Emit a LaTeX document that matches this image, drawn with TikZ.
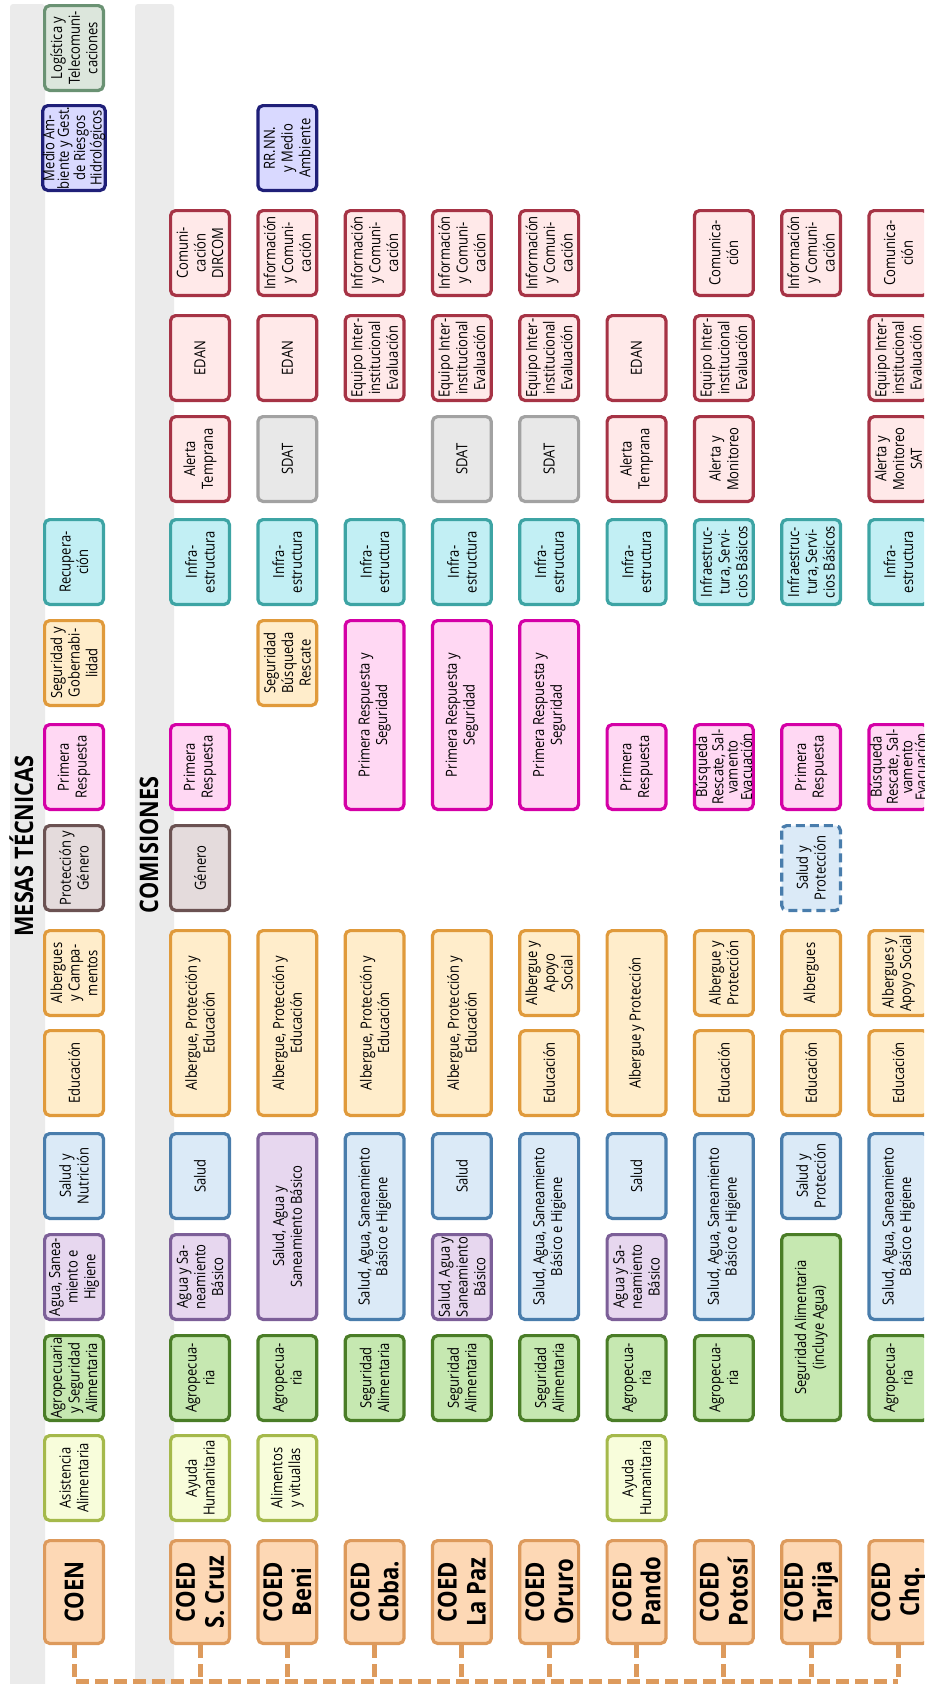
\documentclass[tikz,border=0pt]{standalone}
\usepackage{fontspec}
\setmainfont{Open Sans}[FakeStretch=0.85]
\definecolor{peachF}{HTML}{FDD8B5}
\definecolor{peachD}{HTML}{DD9A5C}
\definecolor{yelF}{HTML}{F8FDDB}
\definecolor{yelD}{HTML}{A5B94B}
\definecolor{grnF}{HTML}{C6E8B1}
\definecolor{grnD}{HTML}{4A7D27}
\definecolor{purF}{HTML}{E7D7EF}
\definecolor{purD}{HTML}{7C5F98}
\definecolor{bluF}{HTML}{DBEAF7}
\definecolor{bluD}{HTML}{497DAC}
\definecolor{orgF}{HTML}{FFEDCB}
\definecolor{orgD}{HTML}{E09A3B}
\definecolor{brnF}{HTML}{E4DBDC}
\definecolor{brnD}{HTML}{6B5252}
\definecolor{pnkF}{HTML}{FFD8F3}
\definecolor{pnkD}{HTML}{D400A6}
\definecolor{tealF}{HTML}{C2EFF4}
\definecolor{tealD}{HTML}{3DA4A4}
\definecolor{redF}{HTML}{FFE9E9}
\definecolor{redD}{HTML}{A63345}
\definecolor{gryF}{HTML}{E8E8E8}
\definecolor{gryD}{HTML}{A2A2A2}
\definecolor{navF}{HTML}{D9D9FF}
\definecolor{navD}{HTML}{1F1F78}
\definecolor{ggF}{HTML}{DCE6DC}
\definecolor{ggD}{HTML}{6A9273}
\definecolor{bandC}{HTML}{EBEBEB}
\tikzset{
 bx/.style={rounded corners=5pt, line width=3.2pt, rotate=90, align=center,
   minimum height=58.8pt, inner sep=0pt, text=black, font=\fontsize{15.3}{17.7}\selectfont},
 fourline/.style={font=\fontsize{15.3}{14.4}\selectfont},
 sPeach/.style={bx, fill=peachF, draw=peachD, font=\bfseries\fontsize{26}{29}\selectfont},
 sYel/.style={bx, fill=yelF, draw=yelD},
 sGrn/.style={bx, fill=grnF, draw=grnD},
 sPur/.style={bx, fill=purF, draw=purD},
 sBlu/.style={bx, fill=bluF, draw=bluD},
 sOrg/.style={bx, fill=orgF, draw=orgD},
 sBrn/.style={bx, fill=brnF, draw=brnD},
 sPnk/.style={bx, fill=pnkF, draw=pnkD},
 sTeal/.style={bx, fill=tealF, draw=tealD},
 sRed/.style={bx, fill=redF, draw=redD},
 sGry/.style={bx, fill=gryF, draw=gryD},
 sNav/.style={bx, fill=navF, draw=navD},
 sGG/.style={bx, fill=ggF, draw=ggD},
 sDash/.style={bx, fill=bluF, draw=bluD, dash pattern=on 9pt off 5pt},
 link/.style={draw=peachD, line width=5pt, dash pattern=on 13pt off 6pt},
 bandbox/.style={fill=bandC, rounded corners=3pt},
 hdr/.style={rotate=90, anchor=base, text=black, font=\bfseries\fontsize{25.5}{28}\selectfont},
}
\def\rowtops{{4,104,209,314,415,518,619,723,824,929,1029,1132,1233,1334,1434,1539}}
\newcommand\mkbox[6]{%
  \pgfmathsetmacro\bxX{#2==0 ? 74 : 200+(#2-1)*87.3}%
  \pgfmathsetmacro\bxT{\rowtops[#3]}%
  \pgfmathsetmacro\bxB{\rowtops[#4]+(#4==15 ? 106 : 88)}%
  \pgfmathsetmacro\bxL{\bxB-\bxT-3.2}%
  \pgfmathsetmacro\bxY{(\bxT+\bxB)/2}%
  \node[#5, minimum width=\bxL pt] (#1) at (\bxX,\bxY) {#6};}
\begin{document}
\begin{tikzpicture}[x=1pt,y=-1pt]
\useasboundingbox (0,0) rectangle (924,1684);
\clip (0,0) rectangle (924,1684);
% bands
\path[bandbox] (10,4) rectangle (45,1690);
\path[bandbox] (135,4) rectangle (174,1690);
\node[hdr] (hmesas) at (33,846) {MESAS TÉCNICAS};
\node[hdr] (hcomis) at (158,845) {COMISIONES};
% column 0: COEN
\mkbox{co0}{0}{0}{0}{sGG}{Logística y\\Telecomuni-\\caciones}
\mkbox{co1}{0}{1}{1}{sNav,fourline}{Medio Am-\\biente y Gest.\\de Riesgos\\Hidrológicos}
\mkbox{co5}{0}{5}{5}{sTeal}{Recupera-\\ción}
\mkbox{co6}{0}{6}{6}{sOrg}{Seguridad y\\Gobernabi-\\lidad}
\mkbox{co7}{0}{7}{7}{sPnk}{Primera\\Respuesta}
\mkbox{co8}{0}{8}{8}{sBrn}{Protección y\\Género}
\mkbox{co9}{0}{9}{9}{sOrg}{Albergues\\y Campa-\\mentos}
\mkbox{co10}{0}{10}{10}{sOrg}{Educación}
\mkbox{co11}{0}{11}{11}{sBlu}{Salud y\\Nutrición}
\mkbox{co12}{0}{12}{12}{sPur}{Agua, Sanea-\\miento e\\Higiene}
\mkbox{co13}{0}{13}{13}{sGrn}{Agropecuaria\\y Seguridad\\Alimentaria}
\mkbox{co14}{0}{14}{14}{sYel}{Asistencia\\Alimentaria}
\mkbox{coen}{0}{15}{15}{sPeach}{COEN}
% column 1: S. Cruz
\mkbox{sc2}{1}{2}{2}{sRed}{Comuni-\\cación\\DIRCOM}
\mkbox{sc3}{1}{3}{3}{sRed}{EDAN}
\mkbox{sc4}{1}{4}{4}{sRed}{Alerta\\Temprana}
\mkbox{sc5}{1}{5}{5}{sTeal}{Infra-\\estructura}
\mkbox{sc7}{1}{7}{7}{sPnk}{Primera\\Respuesta}
\mkbox{sc8}{1}{8}{8}{sBrn}{Género}
\mkbox{sc9}{1}{9}{10}{sOrg}{Albergue, Protección y\\Educación}
\mkbox{sc11}{1}{11}{11}{sBlu}{Salud}
\mkbox{sc12}{1}{12}{12}{sPur}{Agua y Sa-\\neamiento\\Básico}
\mkbox{sc13}{1}{13}{13}{sGrn}{Agropecua-\\ria}
\mkbox{sc14}{1}{14}{14}{sYel}{Ayuda\\Humanitaria}
\mkbox{sc15}{1}{15}{15}{sPeach}{COED\\S. Cruz}
% column 2: Beni
\mkbox{be1}{2}{1}{1}{sNav}{RR.NN.\\y Medio\\Ambiente}
\mkbox{be2}{2}{2}{2}{sRed}{Información\\y Comuni-\\cación}
\mkbox{be3}{2}{3}{3}{sRed}{EDAN}
\mkbox{be4}{2}{4}{4}{sGry}{SDAT}
\mkbox{be5}{2}{5}{5}{sTeal}{Infra-\\estructura}
\mkbox{be6}{2}{6}{6}{sOrg}{Seguridad\\Búsqueda\\Rescate}
\mkbox{be9}{2}{9}{10}{sOrg}{Albergue, Protección y\\Educación}
\mkbox{be11}{2}{11}{12}{sPur}{Salud, Agua y\\Saneamiento Básico}
\mkbox{be13}{2}{13}{13}{sGrn}{Agropecua-\\ria}
\mkbox{be14}{2}{14}{14}{sYel}{Alimentos\\y vituallas}
\mkbox{be15}{2}{15}{15}{sPeach}{COED\\Beni}
% column 3: Cbba.
\mkbox{cb2}{3}{2}{2}{sRed}{Información\\y Comuni-\\cación}
\mkbox{cb3}{3}{3}{3}{sRed}{Equipo Inter-\\institucional\\Evaluación}
\mkbox{cb5}{3}{5}{5}{sTeal}{Infra-\\estructura}
\mkbox{cb6}{3}{6}{7}{sPnk}{Primera Respuesta y\\Seguridad}
\mkbox{cb9}{3}{9}{10}{sOrg}{Albergue, Protección y\\Educación}
\mkbox{cb11}{3}{11}{12}{sBlu}{Salud, Agua, Saneamiento\\Básico e Higiene}
\mkbox{cb13}{3}{13}{13}{sGrn}{Seguridad\\Alimentaria}
\mkbox{cb15}{3}{15}{15}{sPeach}{COED\\Cbba.}
% column 4: La Paz
\mkbox{lp2}{4}{2}{2}{sRed}{Información\\y Comuni-\\cación}
\mkbox{lp3}{4}{3}{3}{sRed}{Equipo Inter-\\institucional\\Evaluación}
\mkbox{lp4}{4}{4}{4}{sGry}{SDAT}
\mkbox{lp5}{4}{5}{5}{sTeal}{Infra-\\estructura}
\mkbox{lp6}{4}{6}{7}{sPnk}{Primera Respuesta y\\Seguridad}
\mkbox{lp9}{4}{9}{10}{sOrg}{Albergue, Protección y\\Educación}
\mkbox{lp11}{4}{11}{11}{sBlu}{Salud}
\mkbox{lp12}{4}{12}{12}{sPur}{Salud, Agua y\\Saneamiento\\Básico}
\mkbox{lp13}{4}{13}{13}{sGrn}{Seguridad\\Alimentaria}
\mkbox{lp15}{4}{15}{15}{sPeach}{COED\\La Paz}
% column 5: Oruro
\mkbox{or2}{5}{2}{2}{sRed}{Información\\y Comuni-\\cación}
\mkbox{or3}{5}{3}{3}{sRed}{Equipo Inter-\\institucional\\Evaluación}
\mkbox{or4}{5}{4}{4}{sGry}{SDAT}
\mkbox{or5}{5}{5}{5}{sTeal}{Infra-\\estructura}
\mkbox{or6}{5}{6}{7}{sPnk}{Primera Respuesta y\\Seguridad}
\mkbox{or9}{5}{9}{9}{sOrg}{Albergue y\\Apoyo\\Social}
\mkbox{or10}{5}{10}{10}{sOrg}{Educación}
\mkbox{or11}{5}{11}{12}{sBlu}{Salud, Agua, Saneamiento\\Básico e Higiene}
\mkbox{or13}{5}{13}{13}{sGrn}{Seguridad\\Alimentaria}
\mkbox{or15}{5}{15}{15}{sPeach}{COED\\Oruro}
% column 6: Pando
\mkbox{pa3}{6}{3}{3}{sRed}{EDAN}
\mkbox{pa4}{6}{4}{4}{sRed}{Alerta\\Temprana}
\mkbox{pa5}{6}{5}{5}{sTeal}{Infra-\\estructura}
\mkbox{pa7}{6}{7}{7}{sPnk}{Primera\\Respuesta}
\mkbox{pa9}{6}{9}{10}{sOrg}{Albergue y Protección}
\mkbox{pa11}{6}{11}{11}{sBlu}{Salud}
\mkbox{pa12}{6}{12}{12}{sPur}{Agua y Sa-\\neamiento\\Básico}
\mkbox{pa13}{6}{13}{13}{sGrn}{Agropecua-\\ria}
\mkbox{pa14}{6}{14}{14}{sYel}{Ayuda\\Humanitaria}
\mkbox{pa15}{6}{15}{15}{sPeach}{COED\\Pando}
% column 7: Potosi
\mkbox{po2}{7}{2}{2}{sRed}{Comunica-\\ción}
\mkbox{po3}{7}{3}{3}{sRed}{Equipo Inter-\\institucional\\Evaluación}
\mkbox{po4}{7}{4}{4}{sRed}{Alerta y\\Monitoreo}
\mkbox{po5}{7}{5}{5}{sTeal}{Infraestruc-\\tura, Servi-\\cios Básicos}
\mkbox{po7}{7}{7}{7}{sPnk,fourline}{Búsqueda\\Rescate, Sal-\\vamento\\Evacuación}
\mkbox{po9}{7}{9}{9}{sOrg}{Albergue y\\Protección}
\mkbox{po10}{7}{10}{10}{sOrg}{Educación}
\mkbox{po11}{7}{11}{12}{sBlu}{Salud, Agua, Saneamiento\\Básico e Higiene}
\mkbox{po13}{7}{13}{13}{sGrn}{Agropecua-\\ria}
\mkbox{po15}{7}{15}{15}{sPeach}{COED\\Potosí}
% column 8: Tarija
\mkbox{ta2}{8}{2}{2}{sRed}{Información\\y Comuni-\\cación}
\mkbox{ta5}{8}{5}{5}{sTeal}{Infraestruc-\\tura, Servi-\\cios Básicos}
\mkbox{ta7}{8}{7}{7}{sPnk}{Primera\\Respuesta}
\mkbox{ta8}{8}{8}{8}{sDash}{Salud y\\Protección}
\mkbox{ta9}{8}{9}{9}{sOrg}{Albergues}
\mkbox{ta10}{8}{10}{10}{sOrg}{Educación}
\mkbox{ta11}{8}{11}{11}{sBlu}{Salud y\\Protección}
\mkbox{ta12}{8}{12}{13}{sGrn}{Seguridad Alimentaria\\(incluye Agua)}
\mkbox{ta15}{8}{15}{15}{sPeach}{COED\\Tarija}
% column 9: Chq.
\mkbox{ch2}{9}{2}{2}{sRed}{Comunica-\\ción}
\mkbox{ch3}{9}{3}{3}{sRed}{Equipo Inter-\\institucional\\Evaluación}
\mkbox{ch4}{9}{4}{4}{sRed}{Alerta y\\Monitoreo\\SAT}
\mkbox{ch5}{9}{5}{5}{sTeal}{Infra-\\estructura}
\mkbox{ch7}{9}{7}{7}{sPnk,fourline}{Búsqueda\\Rescate, Sal-\\vamento\\Evacuación}
\mkbox{ch9}{9}{9}{9}{sOrg}{Albergues y\\Apoyo Social}
\mkbox{ch10}{9}{10}{10}{sOrg}{Educación}
\mkbox{ch11}{9}{11}{12}{sBlu}{Salud, Agua, Saneamiento\\Básico e Higiene}
\mkbox{ch13}{9}{13}{13}{sGrn}{Agropecua-\\ria}
\mkbox{ch15}{9}{15}{15}{sPeach}{COED\\Chq.}
% dashed connectors
\coordinate (hl) at (74,1681);
\draw[link] (coen.west) -- (hl) -- (ch15.west |- hl);
\foreach \n in {sc15,be15,cb15,lp15,or15,pa15,po15,ta15,ch15}{
  \draw[link] (\n.west) -- (\n.west |- hl);
}
\end{tikzpicture}
\end{document}
